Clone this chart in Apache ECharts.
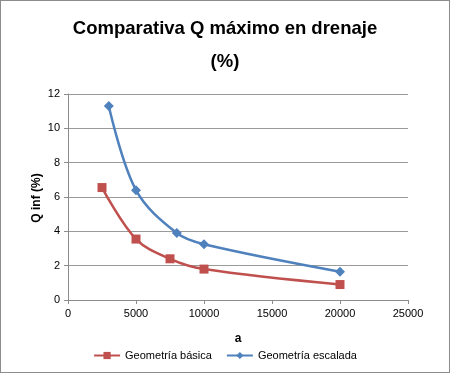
<!DOCTYPE html>
<html><head><meta charset="utf-8">
<script src="https://cdn.jsdelivr.net/npm/echarts@6/dist/echarts.min.js"></script>
<style>html,body{margin:0;padding:0;background:#fff}#c{width:450px;height:373px;box-sizing:border-box;border:1px solid #8c8c8c}</style>
</head><body><div id="c"></div>
<script>
const titleText = "Comparativa Q máximo en drenaje\n(%)";
const xAxisName = "a";
const yAxisName = "Q inf (%)";
const seriesNames = ["Geometría básica", "Geometría escalada"];
const basicX = [2500, 5000, 7500, 10000, 20000];
const basicY = [6.55, 3.55, 2.4, 1.8, 0.9];
const scaledX = [3000, 5000, 8000, 10000, 20000];
const scaledY = [11.3, 6.4, 3.9, 3.25, 1.65];

const font = "'Liberation Sans', sans-serif";
const chart = echarts.init(document.getElementById('c'), null, {renderer: 'canvas'});
chart.setOption({
  animation: false,
  backgroundColor: '#fff',
  title: {
    text: titleText, left: 'center', top: 6,
    textStyle: {fontFamily: font, fontWeight: 'bold', fontSize: 18.5, color: '#000', lineHeight: 33}
  },
  grid: {left: 67, right: 41, top: 93, bottom: 72},
  legend: {
    bottom: 6, left: 'center', itemWidth: 26, itemHeight: 9, itemGap: 14,
    textStyle: {fontFamily: font, fontSize: 11, color: '#000'},
    data: [seriesNames[0], seriesNames[1]]
  },
  graphic: [{
    type: 'text', x: 36, y: 197, rotation: Math.PI / 2,
    style: {text: yAxisName, font: "bold 12px 'Liberation Sans', sans-serif", fill: '#000', align: 'center', verticalAlign: 'middle'}
  }],
  xAxis: {
    type: 'value', min: 0, max: 25000, interval: 5000,
    name: xAxisName, nameLocation: 'middle', nameGap: 33,
    nameTextStyle: {fontFamily: font, fontWeight: 'bold', fontSize: 12, color: '#000'},
    axisLine: {lineStyle: {color: '#8c8c8c'}},
    axisTick: {show: true, length: 4, lineStyle: {color: '#8c8c8c'}},
    axisLabel: {fontFamily: font, fontSize: 11, color: '#000', margin: 8, formatter: v => String(v)},
    splitLine: {show: false}
  },
  yAxis: {
    type: 'value', min: 0, max: 12, interval: 2,
    axisLine: {show: true, lineStyle: {color: '#8c8c8c'}},
    axisTick: {show: true, length: 4, lineStyle: {color: '#8c8c8c'}},
    axisLabel: {fontFamily: font, fontSize: 11, color: '#000', margin: 8},
    splitLine: {show: true, lineStyle: {color: '#9a9a9a'}}
  },
  series: [
    {
      name: seriesNames[0], type: 'line', smooth: 0.35,
      data: basicX.map((x, i) => [x, basicY[i]]),
      symbol: 'rect', symbolSize: 9,
      itemStyle: {color: '#C0504D'},
      lineStyle: {color: '#C0504D', width: 2.5}
    },
    {
      name: seriesNames[1], type: 'line', smooth: 0.35,
      data: scaledX.map((x, i) => [x, scaledY[i]]),
      symbol: 'diamond', symbolSize: 10,
      itemStyle: {color: '#4F81BD'},
      lineStyle: {color: '#4F81BD', width: 2.5}
    }
  ]
});
</script></body></html>
